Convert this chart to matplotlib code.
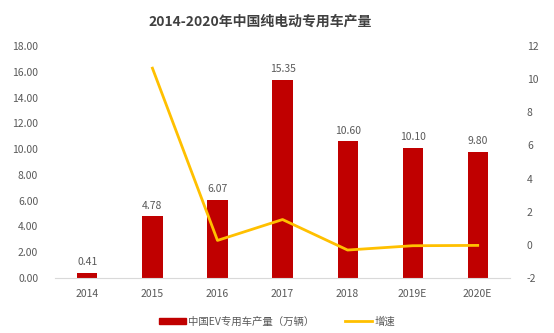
import matplotlib
matplotlib.use("Agg")
import matplotlib.pyplot as plt
import numpy as np

plt.rcParams['font.family'] = ['Noto Sans CJK SC', 'DejaVu Sans']
plt.rcParams['axes.unicode_minus'] = False

years = ["2014", "2015", "2016", "2017", "2018", "2019E", "2020E"]
output = [0.41, 4.78, 6.07, 15.35, 10.60, 10.10, 9.80]
growth = [None, 10.66, 0.27, 1.53, -0.31, -0.05, -0.03]

bar_color = "#C00000"
line_color = "#FFC000"
text_color = "#595959"

fig = plt.figure(figsize=(5.54, 3.33), dpi=100)
ax = fig.add_axes([0.099, 0.165, 0.822, 0.697])
ax2 = ax.twinx()

x = np.arange(len(years))
ax.bar(x, output, width=0.31, color=bar_color, zorder=2)
for xi, v in zip(x, output):
    ax.text(xi, v + 0.45, f"{v:.2f}", ha="center", va="bottom",
            fontsize=7.5, color=text_color)

gx = [xi for xi, g in zip(x, growth) if g is not None]
gy = [g for g in growth if g is not None]
ax2.plot(gx, gy, color=line_color, lw=2, zorder=3)

ax.set_xlim(-0.5, len(years) - 0.5)
ax.set_ylim(0, 18)
ax.set_yticks(np.arange(0, 18.1, 2))
ax.set_yticklabels([f"{v:.2f}" for v in np.arange(0, 18.1, 2)])
ax2.set_ylim(-2, 12)
ax2.set_yticks(np.arange(-2, 12.1, 2))
ax.set_xticks(x)
ax.set_xticklabels(years)

for a in (ax, ax2):
    for s in ("top", "left", "right"):
        a.spines[s].set_visible(False)
    a.spines["bottom"].set_color("#D9D9D9")
    a.tick_params(length=0, labelsize=7.5, colors=text_color)
ax.tick_params(axis="x", pad=8)
ax.tick_params(axis="y", pad=12)
ax2.tick_params(axis="y", pad=12)
ax2.spines["bottom"].set_visible(False)

fig.suptitle("2014-2020年中国纯电动专用车产量", x=0.47, y=0.955,
             fontsize=10, fontweight="bold", color="#404040")

handles = [plt.Rectangle((0, 0), 1, 1, color=bar_color),
           plt.Line2D([0], [0], color=line_color, lw=2)]
fig.legend(handles, ["中国EV专用车产量（万辆）", "增速"], loc="center",
           bbox_to_anchor=(0.5, 0.035), ncol=2, frameon=False, fontsize=7.5,
           labelcolor=text_color, handlelength=2.6, handleheight=0.6,
           columnspacing=3, handletextpad=0.2)

fig.savefig("out.png", dpi=100)
